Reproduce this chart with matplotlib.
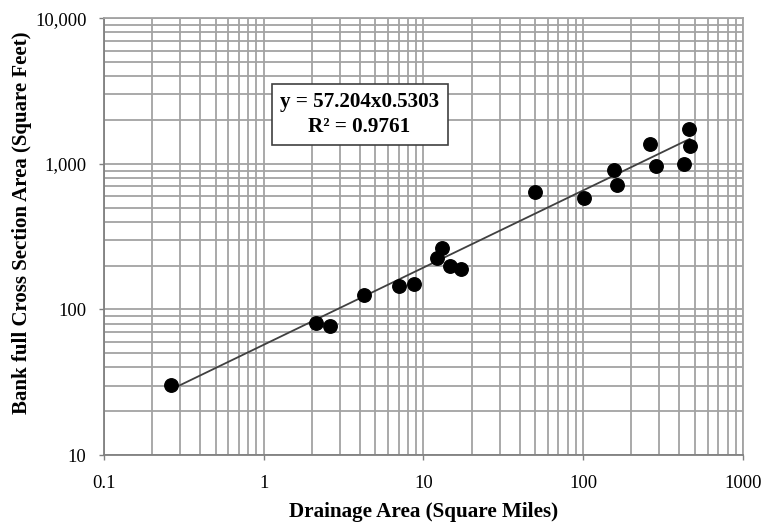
import matplotlib
matplotlib.use('Agg')

import numpy as np
import matplotlib.pyplot as plt
from matplotlib.ticker import FixedLocator, LogLocator, NullFormatter

# --- Regional curve data: drainage area vs. bankfull cross-section area ---
drainage_area = [0.263, 2.12, 2.61, 4.25, 7.03, 8.67, 12.2, 13.1, 14.6, 17.1,
                 50.0, 100.6, 155.6, 161.8, 261.7, 285.7, 427, 457, 464]
xsec_area = [30.5, 81, 77, 126, 145, 149, 224, 265, 200, 191,
             636, 582, 914, 719, 1363, 973, 991, 1730, 1319]

# power-law fit reported on the chart
coef_a = 57.204
coef_b = 0.5303
r_squared = 0.9761

x_ticks = [0.1, 1, 10, 100, 1000]
x_tick_labels = ["0.1", "1", "10", "100", "1000"]
y_ticks = [10, 100, 1000, 10000]
y_tick_labels = ["10", "100", "1,000", "10,000"]

plt.rcParams['font.family'] = ['Liberation Serif', 'DejaVu Serif']

fig = plt.figure(figsize=(7.64, 5.27), dpi=100)
ax = fig.add_axes([0.1361, 0.1366, 0.8364, 0.8287])

ax.set_xscale('log')
ax.set_yscale('log')
ax.set_xlim(0.1, 1000)
ax.set_ylim(10, 10000)

# grid on every major and minor decade line
grid_col = '#a3a3a3'
ax.xaxis.set_minor_locator(LogLocator(base=10, subs=np.arange(2, 10)))
ax.yaxis.set_minor_locator(LogLocator(base=10, subs=np.arange(2, 10)))
ax.xaxis.set_minor_formatter(NullFormatter())
ax.yaxis.set_minor_formatter(NullFormatter())
ax.grid(True, which='both', color=grid_col, lw=1.3)
ax.set_axisbelow(True)

ax.xaxis.set_major_locator(FixedLocator(x_ticks))
ax.yaxis.set_major_locator(FixedLocator(y_ticks))
ax.set_xticklabels(x_tick_labels)
ax.set_yticklabels(y_tick_labels)
ax.tick_params(which='major', direction='out', length=3.6, width=1,
               color='#808080', labelsize=13.3)
ax.tick_params(axis='x', pad=11)
ax.tick_params(axis='y', pad=9)
ax.tick_params(which='minor', length=0)

for side in ['top', 'right']:
    ax.spines[side].set_color(grid_col)
    ax.spines[side].set_linewidth(1.3)
for side in ['left', 'bottom']:
    ax.spines[side].set_color('#808080')
    ax.spines[side].set_linewidth(1.3)

# trend line across the data range
xs = np.logspace(np.log10(min(drainage_area)), np.log10(max(drainage_area)), 100)
ax.plot(xs, coef_a * xs ** coef_b, color='#404040', lw=1.3, zorder=3)

ax.plot(drainage_area, xsec_area, 'o', color='black', ms=9.7, zorder=4)

ax.text(0.400, 0.780, f"y = {coef_a}x{coef_b}\nR² = {r_squared}",
        transform=ax.transAxes, ha='center', va='center',
        fontsize=15.2, fontweight='bold', linespacing=1.3,
        bbox=dict(boxstyle='square,pad=0.4', facecolor='white',
                  edgecolor='#404040', lw=1.2), zorder=5)

ax.set_xlabel("Drainage Area (Square Miles)", fontsize=15.2, fontweight='bold',
              va='center')
ax.set_ylabel("Bank full Cross Section Area (Square Feet)", fontsize=15,
              fontweight='bold', va='center')
ax.xaxis.set_label_coords(0.5, -0.131)
ax.yaxis.set_label_coords(-0.128, 0.532)

fig.savefig('out.png', dpi=100)
